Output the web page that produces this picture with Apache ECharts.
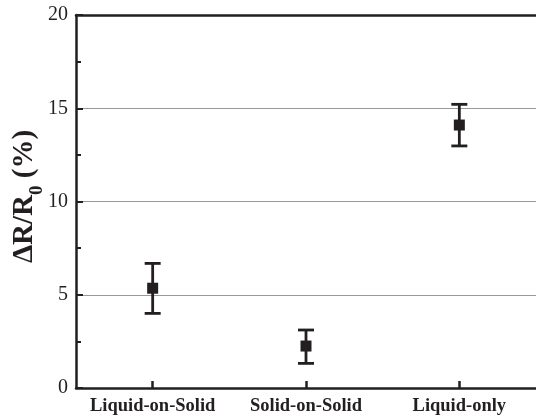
<!DOCTYPE html>
<html><head><meta charset="utf-8">
<script src="https://cdn.jsdelivr.net/npm/echarts@6/dist/echarts.min.js"></script>
<style>html,body{margin:0;padding:0;background:#fff}#c{width:536px;height:418px}</style>
</head><body><div id="c"></div>
<script>
const categories = ['Liquid-on-Solid', 'Solid-on-Solid', 'Liquid-only'];
const means = [5.35, 2.25, 14.1];
const errLow = [4.0, 1.32, 12.98];
const errHigh = [6.68, 3.11, 15.21];
const yTicks = [0, 5, 10, 15, 20];

const ink = '#231f20';
const serif = '"Liberation Serif", "Times New Roman", serif';
const chart = echarts.init(document.getElementById('c'));
chart.setOption({
  animation: false,
  grid: { left: 76, right: 0, top: 15, bottom: 30, containLabel: false, outerBoundsMode: 'none' },
  xAxis: [{
    type: 'category', data: categories,
    axisLine: { show: true, lineStyle: { color: ink, width: 2.5 } },
    axisTick: { show: true, inside: true, alignWithLabel: true, interval: 0, length: 7, lineStyle: { color: ink, width: 2.5 } },
    axisLabel: { color: ink, fontFamily: serif, fontWeight: 'bold', fontSize: 18.5, margin: 9, interval: 0, hideOverlap: false },
    splitLine: { show: false }
  }, {
    type: 'category', data: categories, position: 'top',
    axisLine: { show: true, lineStyle: { color: ink, width: 2.5 } },
    axisTick: { show: false }, axisLabel: { show: false }
  }],
  yAxis: {
    type: 'value', min: yTicks[0], max: yTicks[yTicks.length - 1], interval: 5,
    name: '{m|ΔR/R}{s|0}{m| (%)}', nameLocation: 'middle', nameGap: 37, nameMoveOverlap: false,
    nameTextStyle: {
      padding: [0, 0, 0, 10],
      rich: {
        m: { fontFamily: serif, fontWeight: 'bold', fontSize: 29, color: ink, lineHeight: 34, verticalAlign: 'bottom' },
        s: { fontFamily: serif, fontWeight: 'bold', fontSize: 19, color: ink, lineHeight: 34, verticalAlign: 'bottom', padding: [0, 0, -8, 0] }
      }
    },
    axisLine: { show: true, lineStyle: { color: ink, width: 2.5 } },
    axisTick: { show: true, inside: true, length: 7, lineStyle: { color: ink, width: 2 } },
    minorTick: { show: true, splitNumber: 2, length: 5, lineStyle: { color: ink, width: 2 } },
    axisLabel: { color: ink, fontFamily: serif, fontSize: 20, margin: 8 },
    splitLine: { show: true, lineStyle: { color: '#999', width: 1 } }
  },
  series: [{
    type: 'custom',
    data: categories.map((c, i) => [i, errLow[i], errHigh[i]]),
    renderItem: function (params, api) {
      const lo = api.coord([api.value(0), api.value(1)]);
      const hi = api.coord([api.value(0), api.value(2)]);
      const hw = 8;
      const st = { stroke: ink, lineWidth: 2.8 };
      return { type: 'group', children: [
        { type: 'line', shape: { x1: hi[0], y1: hi[1], x2: lo[0], y2: lo[1] }, style: st },
        { type: 'line', shape: { x1: hi[0] - hw, y1: hi[1], x2: hi[0] + hw, y2: hi[1] }, style: st },
        { type: 'line', shape: { x1: lo[0] - hw, y1: lo[1], x2: lo[0] + hw, y2: lo[1] }, style: st }
      ]};
    },
    z: 3
  }, {
    type: 'scatter', data: means, symbol: 'rect', symbolSize: 11,
    itemStyle: { color: ink, opacity: 1 }, z: 4
  }]
});
</script></body></html>
